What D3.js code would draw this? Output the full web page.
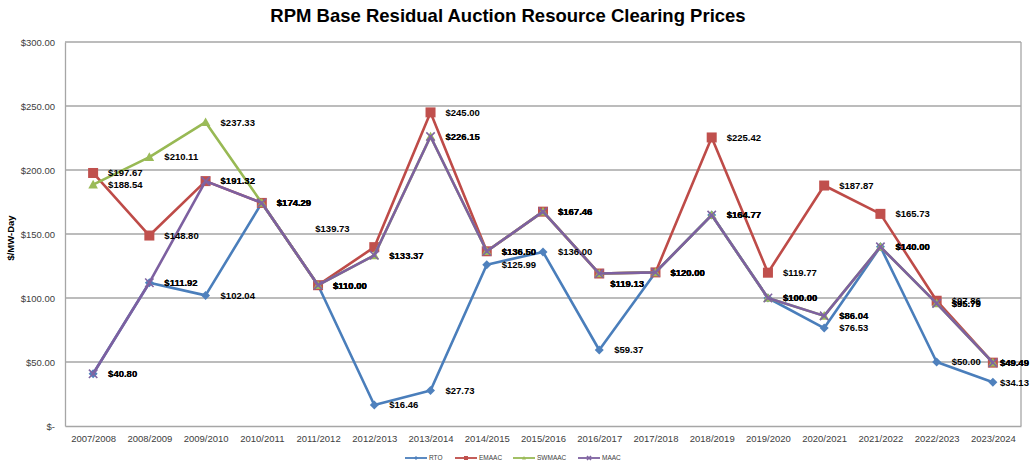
<!DOCTYPE html>
<html>
<head>
<meta charset="utf-8">
<script src="https://cdn.jsdelivr.net/npm/d3@7"></script>
<style>
  html, body { margin: 0; padding: 0; background: #fff; }
  svg { display: block; font-family: "Liberation Sans", Arial, sans-serif; }
</style>
</head>
<body>
<svg id="chart" width="1030" height="470"></svg>
<script>
const categories = ["2007/2008","2008/2009","2009/2010","2010/2011","2011/2012","2012/2013","2013/2014","2014/2015","2015/2016","2016/2017","2017/2018","2018/2019","2019/2020","2020/2021","2021/2022","2022/2023","2023/2024"];
const rto    = [40.80, 111.92, 102.04, 174.29, 110.00, 16.46, 27.73, 125.99, 136.00, 59.37, 120.00, 164.77, 100.00, 76.53, 140.00, 50.00, 34.13];
const emaac  = [197.67, 148.80, 191.32, 174.29, 110.00, 139.73, 245.00, 136.50, 167.46, 119.13, 120.00, 225.42, 119.77, 187.87, 165.73, 97.86, 49.49];
const swmaac = [188.54, 210.11, 237.33, 174.29, 110.00, 133.37, 226.15, 136.50, 167.46, 119.13, 120.00, 164.77, 100.00, 86.04, 140.00, 95.79, 49.49];
const maac   = [40.80, 111.92, 191.32, 174.29, 110.00, 133.37, 226.15, 136.50, 167.46, 119.13, 120.00, 164.77, 100.00, 86.04, 140.00, 95.79, 49.49];
const seriesNames = ["RTO", "EMAAC", "SWMAAC", "MAAC"];
const yTicks = [0, 50, 100, 150, 200, 250, 300];
const title = "RPM Base Residual Auction Resource Clearing Prices";
const yTitle = "$/MW-Day";

const seriesValues = [rto, emaac, swmaac, maac];
const lineColors   = ["#4A7EBB", "#BE4B48", "#98B954", "#7D60A0"];
const markColors   = ["#4F81BD", "#C0504D", "#9BBB59", "#8064A2"];
const markerShapes = ["diamond", "square", "triangle", "x"];
// manual label nudges (Excel labels moved by hand / pulled inside the chart edge)
const labelNudge = {
  "EMAAC|2012/2013": [-74, -18],
  "EMAAC|2016/2017": [-4, 10], "SWMAAC|2016/2017": [-4, 10], "MAAC|2016/2017": [-4, 10],
  "RTO|2023/2024": [-8, 0], "EMAAC|2023/2024": [-8, 0], "SWMAAC|2023/2024": [-8, 0], "MAAC|2023/2024": [-8, 0]
};

const svg = d3.select("#chart");
const pLeft = 65, pRight = 1021, pTop = 42, pBottom = 426;

const x = d3.scalePoint().domain(categories).range([pLeft, pRight]).padding(0.5);
const y = d3.scaleLinear().domain([0, 300]).range([pBottom, pTop]);

// title
svg.append("text").attr("x", 508).attr("y", 22).attr("text-anchor", "middle")
  .attr("font-size", 18.5).attr("font-weight", "bold").attr("fill", "#000").text(title);

// gridlines
svg.append("g").selectAll("line").data(yTicks.filter(d => d > 0)).join("line")
  .attr("x1", pLeft).attr("x2", pRight).attr("y1", d => y(d)).attr("y2", d => y(d))
  .attr("stroke", "#A6A6A6").attr("stroke-width", 1.3);

// y axis
const yAxis = d3.axisLeft(y).tickValues(yTicks).tickSize(0).tickPadding(10)
  .tickFormat(d => d === 0 ? "$-" : "$" + d3.format(".2f")(d));
const gy = svg.append("g").attr("transform", `translate(${pLeft},0)`).call(yAxis);
gy.select(".domain").attr("stroke", "#A6A6A6").attr("stroke-width", 1.3);
gy.selectAll("text").attr("font-size", 9.5).attr("fill", "#404040").attr("font-family", "Liberation Sans, Arial, sans-serif");

// right border
svg.append("line").attr("x1", pRight).attr("x2", pRight).attr("y1", pTop).attr("y2", pBottom)
  .attr("stroke", "#A6A6A6").attr("stroke-width", 1.3);

// x axis
const xAxis = d3.axisBottom(x).tickSize(0).tickPadding(9);
const gx = svg.append("g").attr("transform", `translate(0,${pBottom})`).call(xAxis);
gx.select(".domain").attr("stroke", "#A6A6A6").attr("stroke-width", 1.3);
gx.selectAll("text").attr("font-size", 9.5).attr("fill", "#404040").attr("font-family", "Liberation Sans, Arial, sans-serif");

// y title
svg.append("text").attr("transform", `translate(14,${(pTop + pBottom) / 2 + 4}) rotate(-90)`)
  .attr("text-anchor", "middle").attr("font-size", 9.5).attr("font-weight", "bold").text(yTitle);

function drawMarker(g, shape, cx, cy, color, s) {
  if (shape === "diamond") {
    g.append("path").attr("d", `M${cx},${cy - s}L${cx + s},${cy}L${cx},${cy + s}L${cx - s},${cy}Z`).attr("fill", color);
  } else if (shape === "square") {
    g.append("rect").attr("x", cx - s).attr("y", cy - s).attr("width", 2 * s).attr("height", 2 * s).attr("fill", color);
  } else if (shape === "triangle") {
    g.append("path").attr("d", `M${cx},${cy - s}L${cx + s},${cy + s * 0.8}L${cx - s},${cy + s * 0.8}Z`).attr("fill", color);
  } else {
    g.append("path").attr("d", `M${cx - s},${cy - s}L${cx + s},${cy + s}M${cx - s},${cy + s}L${cx + s},${cy - s}`)
      .attr("stroke", color).attr("stroke-width", 1.6).attr("fill", "none");
  }
}
const markerSize = [4.5, 5, 4.8, 4.2];

const line = d3.line().x((d, i) => x(categories[i])).y(d => y(d));
seriesValues.forEach((vals, si) => {
  const g = svg.append("g");
  g.append("path").datum(vals).attr("d", line).attr("fill", "none")
    .attr("stroke", lineColors[si]).attr("stroke-width", 2.6).attr("stroke-linejoin", "round");
  vals.forEach((v, i) => drawMarker(g, markerShapes[si], x(categories[i]), y(v), markColors[si], markerSize[si]));
});

// data labels
const lg = svg.append("g");
seriesValues.forEach((vals, si) => {
  vals.forEach((v, i) => {
    const nud = labelNudge[seriesNames[si] + "|" + categories[i]] || [0, 0];
    lg.append("text").attr("x", x(categories[i]) + 15 + nud[0]).attr("y", y(v) + nud[1])
      .attr("dy", "0.35em").attr("font-size", 9.5).attr("font-weight", "bold").attr("fill", "#000")
      .text("$" + d3.format(".2f")(v));
  });
});

// legend
const legendItems = [
  { name: "RTO", x: 405 }, { name: "EMAAC", x: 455 }, { name: "SWMAAC", x: 513 }, { name: "MAAC", x: 578 }
];
const leg = svg.append("g");
legendItems.forEach((it, si) => {
  const ly = 458;
  leg.append("line").attr("x1", it.x).attr("x2", it.x + 22).attr("y1", ly).attr("y2", ly)
    .attr("stroke", lineColors[si]).attr("stroke-width", 1.8);
  drawMarker(leg, markerShapes[si], it.x + 11, ly, markColors[si], 2);
  leg.append("text").attr("x", it.x + 24).attr("y", ly).attr("dy", "0.35em")
    .attr("font-size", 6.5).attr("fill", "#404040").text(it.name);
});
</script>
</body>
</html>
